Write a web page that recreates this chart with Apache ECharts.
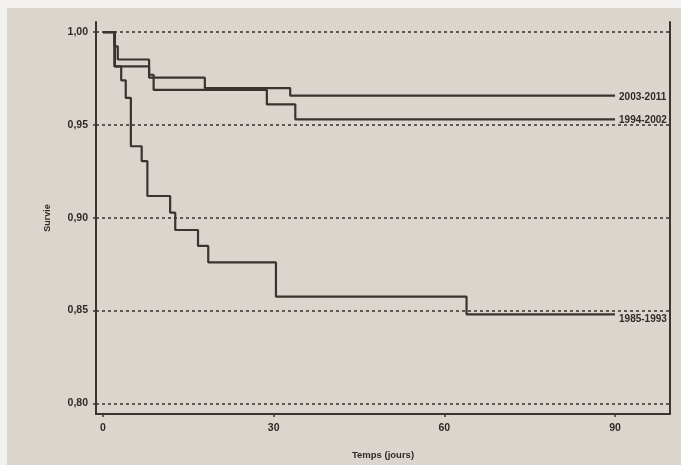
<!DOCTYPE html>
<html>
<head>
<meta charset="utf-8">
<script src="https://cdn.jsdelivr.net/npm/echarts@6/dist/echarts.min.js"></script>
<style>
html,body{margin:0;padding:0;background:#ffffff;}
#chart{width:681px;height:465px;}
</style>
</head>
<body>
<div id="chart"></div>
<script>
// Data
const seriesNames = ['1985-1993', '1994-2002', '2003-2011'];
const days1985 = [0, 2.1, 3.2, 4.0, 4.9, 6.8, 7.8, 11.8, 12.7, 16.7, 18.5, 30.4, 63.9, 90];
const surv1985 = [1, 0.9815, 0.974, 0.9645, 0.9385, 0.9305, 0.9117, 0.9027, 0.8934, 0.8848, 0.8759, 0.8575, 0.848, 0.848];
const days1994 = [0, 2.0, 8.1, 8.9, 28.8, 33.8, 90];
const surv1994 = [1, 0.9815, 0.977, 0.9688, 0.961, 0.953, 0.953];
const days2003 = [0, 2.0, 2.6, 8.1, 17.9, 32.9, 90];
const surv2003 = [1, 0.9923, 0.9852, 0.9754, 0.9698, 0.9658, 0.9658];
const xTicks = [0, 30, 60, 90];
const yTicks = [0.80, 0.85, 0.90, 0.95, 1.00];

const ink = '#3a3431';
const font = "'Liberation Sans', Arial, sans-serif";

function pairs(xs, ys) { return xs.map((x, i) => [x, ys[i]]); }

const allDays = [days1985, days1994, days2003];
const allSurv = [surv1985, surv1994, surv2003];
const labelOffsets = [[0, 5], [0, 1], [0, 2]];

const chart = echarts.init(document.getElementById('chart'), null, {renderer: 'canvas'});
const option = {
  backgroundColor: '#dcd5ce',
  animation: false,
  graphic: [
    {type: 'rect', shape: {x: 0, y: 0, width: 681, height: 8}, style: {fill: '#f4f2f0'}, z: -10, silent: true},
    {type: 'rect', shape: {x: 0, y: 0, width: 7, height: 465}, style: {fill: '#f4f2f0'}, z: -10, silent: true}
  ],
  grid: {left: 96, right: 11, top: 22, bottom: 50},
  xAxis: {
    type: 'value', min: -1.23, max: 99.66,
    name: 'Temps (jours)', nameLocation: 'middle', nameGap: 36,
    nameTextStyle: {fontSize: 9.5, fontWeight: 'bold', color: '#2e2a28', fontFamily: font},
    axisLine: {show: true, onZero: false, lineStyle: {color: ink, width: 2}},
    axisTick: {show: true, customValues: xTicks, length: 3, lineStyle: {color: ink, width: 1.5}},
    axisLabel: {customValues: xTicks, margin: 9, fontSize: 10.5, fontWeight: 'bold', color: '#2e2a28', fontFamily: font},
    splitLine: {show: false}
  },
  yAxis: [{
    type: 'value', min: 0.7943, max: 1.0054,
    name: 'Survie', nameLocation: 'middle', nameGap: 44,
    nameTextStyle: {fontSize: 9, fontWeight: 'bold', color: '#2e2a28', fontFamily: font},
    axisLine: {show: true, onZero: false, lineStyle: {color: ink, width: 2}},
    axisTick: {show: true, customValues: yTicks, length: 3, lineStyle: {color: ink, width: 1.5}},
    axisLabel: {customValues: yTicks, margin: 8, fontSize: 10.5, fontWeight: 'bold', color: '#2e2a28', fontFamily: font,
      formatter: v => v.toFixed(2).replace('.', ',')},
    splitLine: {show: true, lineStyle: {color: '#4a4441', width: 1.7, type: [3, 3]}}
  }, {
    type: 'value', position: 'right', min: 0.7943, max: 1.0054,
    axisLine: {show: true, onZero: false, lineStyle: {color: ink, width: 2}},
    axisTick: {show: false}, axisLabel: {show: false}, splitLine: {show: false}
  }],
  series: seriesNames.map((name, i) => ({
    name: name,
    type: 'line',
    step: 'end',
    yAxisIndex: 0,
    showSymbol: false,
    symbol: 'none',
    lineStyle: {color: ink, width: 2.2},
    endLabel: {show: true, formatter: name, distance: 4, offset: labelOffsets[i], fontSize: 10, fontWeight: 'bold', color: '#2e2a28', fontFamily: font},
    data: pairs(allDays[i], allSurv[i])
  }))
};
chart.setOption(option);
</script>
</body>
</html>
